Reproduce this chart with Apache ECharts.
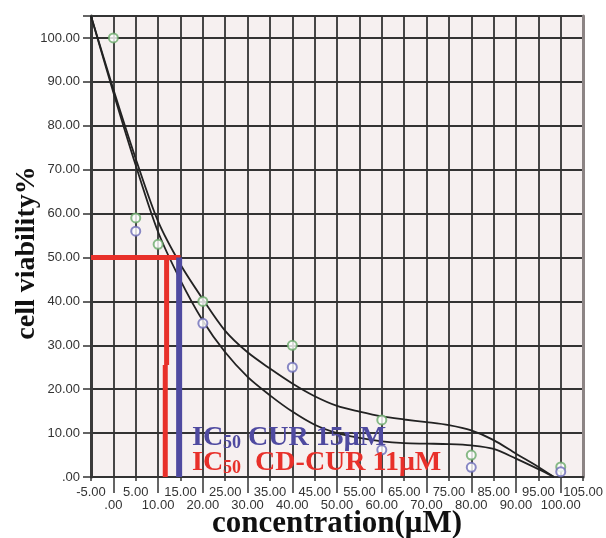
<!DOCTYPE html>
<html><head><meta charset="utf-8">
<script src="https://cdn.jsdelivr.net/npm/echarts@6/dist/echarts.min.js"></script>
<style>html,body{margin:0;padding:0;background:#fff}#c{width:606px;height:538px}</style>
</head><body><div id="c"></div>
<script>
// ---- data ----
const xTicks = [-5,0,5,10,15,20,25,30,35,40,45,50,55,60,65,70,75,80,85,90,95,100,105];
const xTickLabels = ['-5.00','.00','5.00','10.00','15.00','20.00','25.00','30.00','35.00','40.00','45.00','50.00','55.00','60.00','65.00','70.00','75.00','80.00','85.00','90.00','95.00','100.00','105.00'];
const xLongTicks = [0,10,20,30,40,50,60,70,80,90,100];
const yTicks = [0,10,20,30,40,50,60,70,80,90,100];
const yTickLabels = ['.00','10.00','20.00','30.00','40.00','50.00','60.00','70.00','80.00','90.00','100.00'];

const greenX = [0,5,10,20,40,60,80,100];
const greenY = [100,59,53,40,30,13,5,2.3];
const blueX = [5,20,40,60,80,100];
const blueY = [56,35,25,6.2,2.2,1.2];

const fitX      = [-5,0,5,10,15,20,25,30,35,40,45,50,55,60,65,70,75,80,85,90,95,98.5];
const upperFitY = [105,88.3,72.5,58.2,48.4,40.5,33.3,28.4,24.7,21.3,18.4,16.2,14.9,13.8,13.1,12.5,11.8,10.6,8.4,5.3,2.3,0];
const lowerFitY = [105,87.6,71,55.8,44.8,35.6,28.4,22.8,18.6,14.9,11.9,10.0,8.9,8.1,7.7,7.6,7.5,7.2,6.4,4.2,1.8,0];

const redHX = [-5,15];   const redHY = [50,50];
const redV1X = [11.9,11.9]; const redV1Y = [50,25.5];
const redV2X = [11.6,11.6]; const redV2Y = [25.5,0];
const blueVX = [14.7,14.7]; const blueVY = [50,0];

const zip = (a,b) => a.map((v,i)=>[v,b[i]]);
const lab = (v) => { const i = xTicks.indexOf(Math.round(v*100)/100); return i<0 ? null : xTickLabels[i]; };

const chart = echarts.init(document.getElementById('c'), null, {renderer:'canvas'});
const labelFont = {fontFamily:'Liberation Sans', fontSize:13, color:'#333'};
const serif = 'Liberation Serif';

const option = {
  animation:false,
  backgroundColor:'#ffffff',
  grid:{left:91, right:21, top:16, bottom:61, show:true, backgroundColor:'#f6f0f0', borderColor:'#8a8a8a', borderWidth:1},
  xAxis:[{
    type:'value', min:-5, max:105, interval:5,
    axisLine:{show:true, onZero:false, lineStyle:{color:'#333', width:2}},
    axisTick:{show:true, length:4, lineStyle:{color:'#333', width:1.5}},
    splitLine:{show:true, lineStyle:{color:'#333', width:1.8}},
    axisLabel:Object.assign({margin:9, showMinLabel:true, showMaxLabel:true, hideOverlap:false, formatter:(v)=>{
      const s = lab(v); if(s===null) return '';
      return (xLongTicks.indexOf(Math.round(v*100)/100) >= 0) ? '' : s;
    }}, labelFont)
  },{
    type:'value', min:-5, max:105, position:'bottom', gridIndex:0,
    axisLine:{show:false, onZero:false}, splitLine:{show:false},
    axisTick:{show:true, length:16, customValues:xLongTicks, lineStyle:{color:'#333', width:1.5}},
    axisLabel:Object.assign({margin:22, customValues:xLongTicks, showMinLabel:true, showMaxLabel:true, hideOverlap:false, formatter:(v)=>{
      const s = lab(v); return s===null ? '' : s;
    }}, labelFont)
  }],
  yAxis:[{
    type:'value', min:0, max:105, interval:10,
    axisLine:{show:true, onZero:false, lineStyle:{color:'#3a3a3a', width:3}},
    axisTick:{show:true, length:8, lineStyle:{color:'#333', width:1.5}},
    splitLine:{show:true, lineStyle:{color:'#333', width:1.8}},
    axisLabel:Object.assign({margin:11, formatter:(v)=>{
      const i = yTicks.indexOf(Math.round(v*100)/100);
      return i<0 ? '' : yTickLabels[i];
    }}, labelFont)
  },{
    type:'value', min:0, max:105, position:'right',
    axisLine:{show:true, onZero:false, lineStyle:{color:'#8c8484', width:3}},
    axisTick:{show:false}, axisLabel:{show:false}, splitLine:{show:false}
  }],
  series:[
    {type:'line', data:zip(fitX, upperFitY), smooth:0.3, showSymbol:false, symbol:'none', lineStyle:{color:'#222', width:1.8}, z:3},
    {type:'line', data:zip(fitX, lowerFitY), smooth:0.3, showSymbol:false, symbol:'none', lineStyle:{color:'#222', width:1.8}, z:3},
    {type:'scatter', data:zip(greenX, greenY), symbol:'emptyCircle', symbolSize:9, itemStyle:{color:'#6aaa6a', borderColor:'#6aaa6a', borderWidth:1.3}, z:4},
    {type:'scatter', data:zip(blueX, blueY), symbol:'emptyCircle', symbolSize:9, itemStyle:{color:'#6b6bb8', borderColor:'#6b6bb8', borderWidth:1.3}, z:4},
    {type:'line', data:zip(redHX, redHY), symbol:'none', lineStyle:{color:'#e8302a', width:5}, z:5},
    {type:'line', data:zip(redV1X, redV1Y), symbol:'none', lineStyle:{color:'#e8302a', width:5}, z:5},
    {type:'line', data:zip(redV2X, redV2Y), symbol:'none', lineStyle:{color:'#e8302a', width:5}, z:5},
    {type:'line', data:zip(blueVX, blueVY), symbol:'none', lineStyle:{color:'#4f4aa0', width:6}, z:5}
  ],
  graphic:[
    {type:'text', left:192, top:424, z:10, style:{
      text:'{a|IC}{b|50}{a| CUR 15μM}',
      rich:{a:{fontFamily:serif, fontWeight:'bold', fontSize:28, fill:'#4f4aa0', verticalAlign:'bottom', lineHeight:28},
            b:{fontFamily:serif, fontWeight:'bold', fontSize:18, fill:'#4f4aa0', verticalAlign:'bottom', lineHeight:26}}
    }},
    {type:'text', left:192, top:449, z:10, style:{
      text:'{a|IC}{b|50}{a|  CD-CUR 11μM}',
      rich:{a:{fontFamily:serif, fontWeight:'bold', fontSize:28, fill:'#e8302a', verticalAlign:'bottom', lineHeight:28},
            b:{fontFamily:serif, fontWeight:'bold', fontSize:18, fill:'#e8302a', verticalAlign:'bottom', lineHeight:26}}
    }},
    {type:'text', x:27, y:253, rotation:Math.PI/2, z:10, style:{
      text:'cell viability%', fontFamily:serif, fontWeight:'bold', fontSize:28, fill:'#111', align:'center', verticalAlign:'middle'
    }},
    {type:'text', x:337, y:524, z:10, style:{
      text:'concentration(μM)', fontFamily:serif, fontWeight:'bold', fontSize:31, fill:'#111', align:'center', verticalAlign:'middle'
    }}
  ]
};
chart.setOption(option);
</script>
</body></html>
